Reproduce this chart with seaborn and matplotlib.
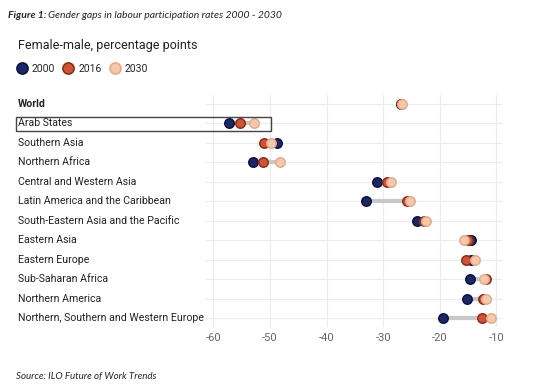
import pandas as pd
import matplotlib.pyplot as plt
import matplotlib.transforms as mtransforms
from matplotlib.lines import Line2D
from matplotlib.patches import Rectangle
import seaborn as sns

# Data (female-male gap, percentage points)
regions = ["World", "Arab States", "Southern Asia", "Northern Africa",
           "Central and Western Asia", "Latin America and the Caribbean",
           "South-Eastern Asia and the Pacific", "Eastern Asia", "Eastern Europe",
           "Sub-Saharan Africa", "Northern America",
           "Northern, Southern and Western Europe"]
gap_2000 = [-26.9, -57.3, -48.7, -53.0, -31.1, -33.0, -24.0, -14.4, -14.5, -14.6, -15.1, -19.4]
gap_2016 = [-26.8, -55.3, -51.1, -51.3, -29.4, -25.8, -22.7, -15.0, -15.3, -11.8, -12.4, -12.6]
gap_2030 = [-26.7, -52.9, -49.8, -48.3, -28.7, -25.2, -22.4, -15.7, -13.8, -12.2, -11.9, -11.0]
years = ["2000", "2016", "2030"]
xticks = [-60, -50, -40, -30, -20, -10]

fill = {"2000": "#1c2767", "2016": "#cc5538", "2030": "#f6c8ab"}
edge = {"2000": "#0b1240", "2016": "#8e2c18", "2030": "#e3ab8c"}

df = pd.DataFrame({"region": regions, "2000": gap_2000, "2016": gap_2016, "2030": gap_2030})
df["row"] = range(len(regions))
long = df.melt(id_vars=["region", "row"], value_vars=years, var_name="year", value_name="gap")

sns.set_theme(style="white")
plt.rcParams["font.family"] = ["Roboto", "DejaVu Sans"]

W, H = 536, 392
fig = plt.figure(figsize=(W / 100, H / 100), dpi=100)
ax = fig.add_axes([205 / W, 1 - 327 / H, (502 - 205) / W, (327 - 95) / H])

# connecting lines from min to max
lo = df[years].min(axis=1)
hi = df[years].max(axis=1)
ax.hlines(df["row"], lo, hi, color="#c8c8c8", lw=3, zorder=2)

for y in years:
    sub = long[long["year"] == y]
    sns.scatterplot(data=sub, x="gap", y="row", ax=ax, color=fill[y], edgecolor=edge[y],
                    linewidth=1.1, s=46, zorder=3, legend=False)

ax.set_xlim(-61.5, -9)
ax.set_ylim(len(regions) - 0.54, -0.46)
ax.set_xticks(xticks)
ax.set_xticklabels([str(t) for t in xticks])
ax.set_yticks(range(len(regions)))
ax.set_yticklabels([])
ax.tick_params(axis="x", length=0, pad=4, labelsize=8, labelcolor="#666666")
ax.tick_params(axis="y", length=0)
ax.grid(True, color="#ececec", lw=0.8)
ax.set_axisbelow(True)
for s in ax.spines.values():
    s.set_visible(False)
ax.set_xlabel("")
ax.set_ylabel("")

# region labels aligned to the left of the figure
trans = mtransforms.blended_transform_factory(fig.transFigure, ax.transData)
for i, name in enumerate(regions):
    ax.text(18 / W, i, name, transform=trans, ha="left", va="center", fontsize=7.6,
            color="#222222", fontweight="bold" if name == "World" else "normal", clip_on=False)

# box around Arab States
fig.patches.append(Rectangle((16 / W, 1 - 131 / H), (271 - 16) / W, 14 / H,
                             transform=fig.transFigure, fill=False, ec="#444444", lw=1))

# titles
t1 = fig.text(8 / W, 1 - 15 / H, "Figure 1:", fontsize=7.5, style="italic", fontweight="bold",
              family=["Lato", "DejaVu Sans"], va="center", ha="left")
fig.canvas.draw()
bb = t1.get_window_extent()
fig.text((bb.x1 + 2) / W, 1 - 15 / H, "Gender gaps in labour participation rates 2000 - 2030",
         fontsize=7.5, style="italic", family=["Lato", "DejaVu Sans"], va="center", ha="left")
fig.text(18 / W, 1 - 46 / H, "Female-male, percentage points", fontsize=9, color="#222222",
         va="center", ha="left")
fig.text(16 / W, 1 - 377 / H, "Source: ILO Future of Work Trends", fontsize=7, style="italic",
         family=["Lato", "DejaVu Sans"], va="center", ha="left")

handles = [Line2D([], [], marker="o", ls="", markersize=8, markerfacecolor=fill[y],
                  markeredgecolor=edge[y], markeredgewidth=1.2, label=y) for y in years]
fig.legend(handles=handles, loc="center left", bbox_to_anchor=(6 / W, 1 - 69 / H), ncol=3,
           frameon=False, fontsize=7.5, handletextpad=0.35, columnspacing=0.7, handlelength=1.2)

fig.savefig("out.png", dpi=100)
